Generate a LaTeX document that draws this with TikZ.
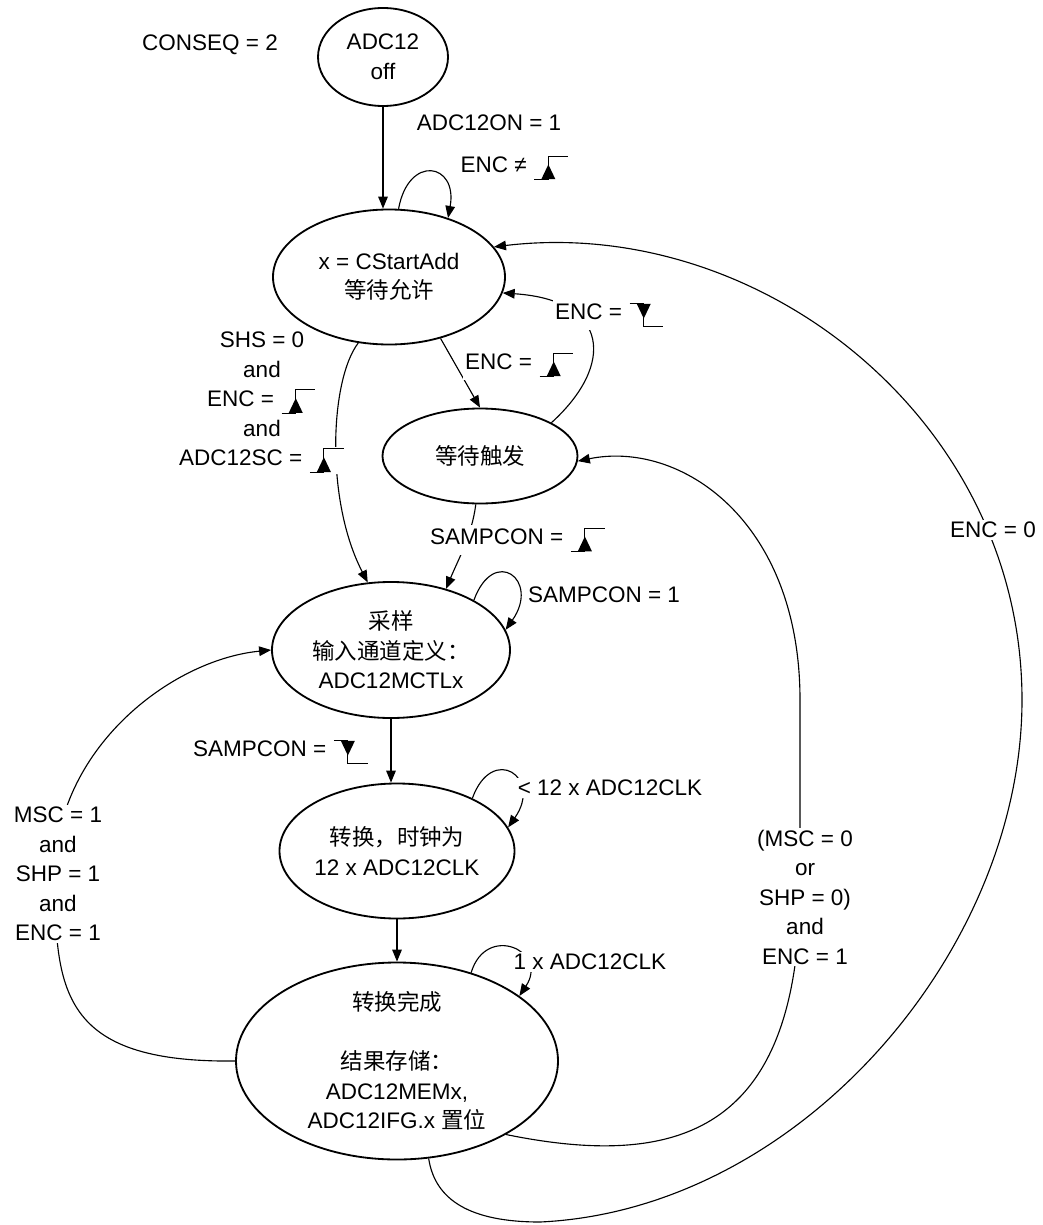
\documentclass[tikz,border=0pt]{standalone}
\usepackage{fontspec}
\setmainfont{Liberation Sans}
\newfontfamily\cjkfont{Noto Sans CJK SC}
\usepackage{tikz}
\usetikzlibrary{arrows.meta,shapes.geometric}
\newcommand{\zh}[1]{{\cjkfont #1}}
\newcommand{\risesym}{\tikz[baseline=0pt,x=1pt,y=1pt,line width=0.7pt]{\fill[white] (-1,-6) rectangle (25,13); \draw (0,-5) -- (10,-5) -- (10,12) -- (24,12); \fill (10,6) -- (5,-4.5) -- (15,-4.5) -- cycle;}}
\newcommand{\fallsym}{\tikz[baseline=0pt,x=1pt,y=1pt,line width=0.7pt]{\fill[white] (-1,-6) rectangle (25,13); \draw (0,12) -- (10,12) -- (10,-5) -- (24,-5); \fill (10,1) -- (5,11.5) -- (15,11.5) -- cycle;}}

\begin{document}
\begin{tikzpicture}[
  x=0.25mm, y=-0.25mm,
  >={Triangle[length=3mm,width=2.4mm]},
  every node/.style={font=\fontsize{16}{21}\selectfont},
  state/.style={draw, ellipse, line width=1.3pt, align=center, inner sep=0pt},
  trans/.style={->, line width=0.8pt},
  cond/.style={align=center, inner sep=1.5pt},
  condw/.style={cond, fill=white}
]
\useasboundingbox (0,0) rectangle (1042,1225);

\node[state, minimum width=32.5mm, minimum height=24.5mm] (off) at (383,57) {ADC12\\off};
\node[state, minimum width=58mm, minimum height=33.75mm] (wen) at (389,277) {x = CStartAdd\\\zh{等待允许}};
\node[state, minimum width=48.75mm, minimum height=23.75mm] (wtr) at (480,456) {\zh{等待触发}};
\node[state, minimum width=59.5mm, minimum height=34mm] (samp) at (391,650) {\zh{采样}\\\zh{输入通道定义：}\\ADC12MCTLx};
\node[state, minimum width=58.75mm, minimum height=33.75mm] (conv) at (397,851) {\zh{转换，时钟为}\\12 x ADC12CLK};
\node[state, minimum width=80.5mm, minimum height=49.25mm] (done) at (397,1061) {\zh{转换完成}\\[21pt]\zh{结果存储：}\\ADC12MEMx,\\ADC12IFG.x \zh{置位}};

\draw[trans] (off.south) -- (off.south |- wen.north);
\draw[trans] (wen.82) .. controls +(10,-55) and +(10,-55) .. (wen.45);
\draw[trans] (wen.-50) -- (wtr.north);
\draw[trans] (wtr.25) .. controls (615,365) and (610,300) .. (wen.-8);
\draw[trans] (wen.245) .. controls (330,380) and (325,500) .. (samp.109);
\draw[trans] (wtr.265) .. controls (472,535) and (458,560) .. (samp.48);
\draw[trans] (samp.31) .. controls +(20,-55) and +(35,-50) .. (samp.10);
\draw[trans] (samp.south) -- (samp.south |- conv.north);
\draw[trans] (conv.35) .. controls +(20,-55) and +(35,-50) .. (conv.12);
\draw[trans] (conv.south) -- (done.north);
\draw[trans] (done.50) .. controls +(15,-50) and +(30,-45) .. (done.28);
\draw[trans] (done.west) .. controls (60,1063) and (55,990) .. (55,874)
  .. controls (55,750) and (170,660) .. (samp.west);
\draw[trans] (done.-34) .. controls (680,1170) and (795,1130) .. (800,900) -- (800,700)
  .. controls (800,520) and (680,440) .. (wtr.-3);
\draw[trans] (done.-72) .. controls (435,1200) and (470,1222) .. (540,1222)
  .. controls (800,1210) and (1022,950) .. (1022,700)
  .. controls (1022,420) and (760,215) .. (wen.16);

\node[cond] (lseq) at (210,45) {CONSEQ = 2};
\node[cond] (lon) at (489,123) {ADC12ON = 1};
\node[cond] (lnrise) at (515,168) {ENC ≠ \risesym};
\node[condw] (lfall) at (610,315) {ENC = \fallsym};
\node[condw] (lrise) at (520,365) {ENC = \risesym};
\node[cond] (lshs) at (262,403) {SHS = 0\\and\\ENC = \risesym\\and\\ADC12SC = \risesym};
\node[condw] (lsrise) at (518,540) {SAMPCON = \risesym};
\node[condw] (lsone) at (604,595) {SAMPCON = 1};
\node[cond] (lsfall) at (281,752) {SAMPCON = \fallsym};
\node[condw] (lclk) at (610,788) {< 12 x ADC12CLK};
\node[condw] (lmsc) at (58,874) {MSC = 1\\and\\SHP = 1\\and\\ENC = 1};
\node[condw] (lmsc0) at (805,897) {(MSC = 0\\or\\SHP = 0)\\and\\ENC = 1};
\node[condw] (lone) at (590,962) {1 x ADC12CLK};
\node[condw] (lenc) at (993,530) {ENC = 0};

\end{tikzpicture}
\end{document}
